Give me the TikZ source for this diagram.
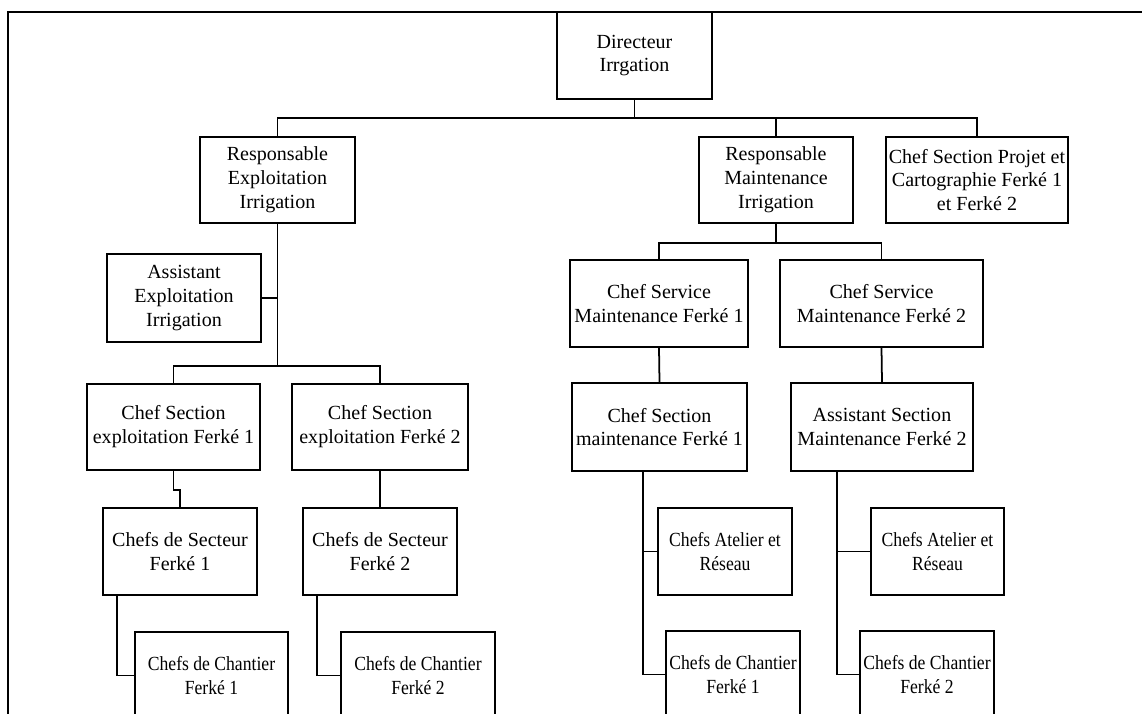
\documentclass[tikz,border=0pt]{standalone}
\usepackage{fontspec}
\setmainfont{Liberation Serif}
\newfontfamily\etroit[FakeStretch=0.88]{Liberation Serif}
\usetikzlibrary{positioning}

\tikzset{
  poste/.style={draw=black, line width=1.1pt, align=center, inner sep=0pt,
    minimum height=1.74cm, font=\fontsize{11.4}{13.6}\selectfont},
  serre/.style={poste, font=\etroit\fontsize{11.4}{13.6}\selectfont},
  lien/.style={draw=black, line width=1pt},
}

\begin{document}
\begin{tikzpicture}[x=0.02cm,y=-0.02cm]
      \useasboundingbox (0,0) rectangle (1142,713);
      \clip (0,0) rectangle (1142,713);
      % cadre
      \draw[lien] (8,730) -- (8,12) -- (1160,12);

      % direction
      \node[poste,minimum width=3.1cm] (dir) at (634.5,55.5) {Directeur\\Irrgation};
      \node[poste,minimum width=3.1cm,minimum height=1.72cm] (respE) at (277.5,180) {Responsable\\Exploitation\\Irrigation};
      \node[poste,minimum width=3.08cm,minimum height=1.72cm] (respM) at (776,180) {Responsable\\Maintenance\\Irrigation};
      \node[poste,minimum width=3.64cm,minimum height=1.72cm] (projet) at (977,180) {Chef Section Projet et\\Cartographie Ferké 1\\et Ferké 2};

      % exploitation
      \node[poste,minimum width=3.08cm,minimum height=1.76cm] (assistE) at (184,298) {Assistant\\Exploitation\\Irrigation};
      \node[poste,minimum width=3.46cm,minimum height=1.72cm] (secE1) at (173.5,427) {Chef Section\\exploitation Ferké 1};
      \node[poste,minimum width=3.52cm,minimum height=1.72cm] (secE2) at (380,427) {Chef Section\\exploitation Ferké 2};
      \node[poste,minimum width=3.08cm] (sectr1) at (180,551.5) {Chefs de Secteur\\Ferké 1};
      \node[poste,minimum width=3.08cm] (sectr2) at (380,551.5) {Chefs de Secteur\\Ferké 2};
      \node[serre,minimum width=3.06cm] (chant1) at (211.5,675.5) {Chefs de Chantier\\Ferké 1};
      \node[serre,minimum width=3.08cm] (chant2) at (418,675.5) {Chefs de Chantier\\Ferké 2};

      % maintenance
      \node[poste,minimum width=3.56cm] (servM1) at (659,303.5) {Chef Service\\Maintenance Ferké 1};
      \node[poste,minimum width=4.06cm] (servM2) at (881.5,303.5) {Chef Service\\Maintenance Ferké 2};
      \node[poste,minimum width=3.5cm,minimum height=1.76cm] (secM1) at (659.5,427) {Chef Section\\maintenance Ferké 1};
      \node[poste,minimum width=3.64cm,minimum height=1.76cm] (asstM2) at (882,427) {Assistant Section\\Maintenance Ferké 2};
      \node[serre,minimum width=2.68cm] (atel1) at (725,551.5) {Chefs Atelier et\\Réseau};
      \node[serre,minimum width=2.66cm] (atel2) at (937.5,551.5) {Chefs Atelier et\\Réseau};
      \node[serre,minimum width=2.68cm] (chantM1) at (733,674.5) {Chefs de Chantier\\Ferké 1};
      \node[serre,minimum width=2.68cm] (chantM2) at (927,674.5) {Chefs de Chantier\\Ferké 2};

      % liaisons
      \draw[lien] (dir.south) -- ++(0,18) coordinate (busD);
      \draw[lien] (respE.north) |- (busD) -| (projet.north);
      \draw[lien] (respM.north) -- (respM.north |- busD);

      \draw[lien] (respE.south) -- ++(0,142) coordinate (busE);
      \draw[lien] (assistE.east) -- (assistE.east -| busE);
      \draw[lien] (secE1.north) |- (busE) -| (secE2.north);
      \draw[lien] (secE1.south) -- ++(0,19) -| (sectr1.north);
      \draw[lien] (secE2.south) -- (sectr2.north);
      \draw[lien] ([xshift=0.3cm]sectr1.south west) |- (chant1.west);
      \draw[lien] ([xshift=0.3cm]sectr2.south west) |- (chant2.west);

      \draw[lien] (respM.south) -- ++(0,19) coordinate (busM);
      \draw[lien] (servM1.north) |- (busM) -| (servM2.north);
      \draw[lien] (servM1.south) -- (secM1.north);
      \draw[lien] (servM2.south) -- (asstM2.north);
      \draw[lien] ([xshift=-0.33cm]secM1.south) |- (atel1.west);
      \draw[lien] ([xshift=-0.33cm]secM1.south) |- (chantM1.west);
      \draw[lien] ([xshift=-0.9cm]asstM2.south) |- (atel2.west);
      \draw[lien] ([xshift=-0.9cm]asstM2.south) |- (chantM2.west);
    \end{tikzpicture}
\end{document}
